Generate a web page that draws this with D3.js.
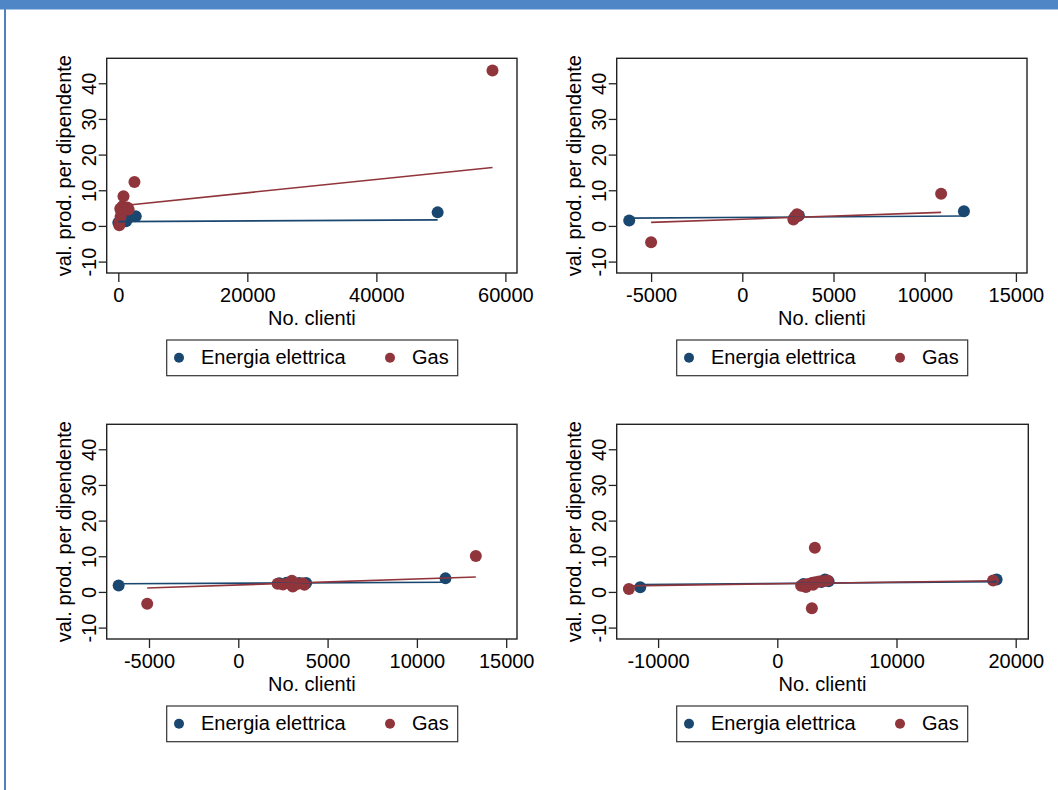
<!DOCTYPE html>
<html>
<head>
<meta charset="utf-8">
<script src="https://cdn.jsdelivr.net/npm/d3@7"></script>
<style>
  body { margin: 0; background: #fff; }
  svg text { font-family: "Liberation Sans", Arial, sans-serif; fill: #000; }
</style>
</head>
<body>
<div id="chart"></div>
<script>
// Data
const seriesNames = ["Energia elettrica", "Gas"];
const yTicks = [-10, 0, 10, 20, 30, 40];

const p1Ticks = [0, 20000, 40000, 60000];
const p1Energia = [[0, 0.9], [1200, 1.3], [1900, 2.6], [2700, 2.7], [49500, 3.8]];
const p1Gas = [[150, 0.2], [250, 1.3], [350, 2.6], [500, 3.8], [300, 4.8], [650, 5.5], [1000, 4.9],
    [1400, 5.2], [1600, 4.6], [800, 8.3], [2500, 12.3], [58000, 43.6]];
const p1FitEnergia = [[0, 1.2], [49500, 1.7]];
const p1FitGas = [[150, 5.6], [58000, 16.4]];

const p2Ticks = [-5000, 0, 5000, 10000, 15000];
const p2Energia = [[-6200, 1.5], [2900, 2.6], [3100, 2.9], [12150, 4.1]];
const p2Gas = [[-5000, -4.6], [2800, 1.8], [2900, 2.6], [3000, 3.3], [3050, 2.8], [10900, 9.0]];
const p2FitEnergia = [[-6200, 2.2], [12150, 2.8]];
const p2FitGas = [[-5000, 1.0], [10900, 3.8]];

const p3Ticks = [-5000, 0, 5000, 10000, 15000];
const p3Energia = [[-6700, 1.8], [2300, 2.4], [2700, 2.6], [3400, 2.5], [3800, 2.5], [11600, 3.8]];
const p3Gas = [[-5100, -3.3], [2200, 2.3], [2500, 2.1], [2800, 2.4], [3000, 3.1], [3050, 1.5],
    [3300, 2.2], [3600, 2.4], [3700, 2.0], [13300, 10.1]];
const p3FitEnergia = [[-6700, 2.3], [11600, 2.7]];
const p3FitGas = [[-5100, 1.1], [13300, 4.2]];

const p4Ticks = [-10000, 0, 10000, 20000];
const p4Energia = [[-11500, 1.3], [2200, 2.2], [3000, 2.6], [3700, 2.8], [4000, 3.5], [4300, 3.0], [18400, 3.5]];
const p4Gas = [[-12450, 0.8], [2000, 1.7], [2300, 2.0], [2400, 1.4], [2600, 2.2], [2900, 2.5], [3000, 2.0],
    [3200, 2.7], [3500, 2.9], [3800, 3.0], [4200, 3.2], [3150, 12.4], [2900, -4.6], [18100, 3.2]];
const p4FitEnergia = [[-11500, 2.05], [18400, 2.9]];
const p4FitGas = [[-12450, 1.7], [18100, 3.15]];

const colors = ["#1a476f", "#90353b"];
const font = 20;
// Stata prints a plain hyphen for negatives
const plain = d => String(d);

const svg = d3.select("#chart")
    .append("svg")
    .attr("width", 1058)
    .attr("height", 790);

// Slide header and left rule
svg.append("rect")
    .attr("x", 0).attr("y", 0)
    .attr("width", 1058).attr("height", 9)
    .attr("fill", "#4f86c6");
svg.append("line")
    .attr("x1", 0).attr("x2", 1058)
    .attr("y1", 9.5).attr("y2", 9.5)
    .attr("stroke", "#a9c5e8");
svg.append("line")
    .attr("x1", 5).attr("x2", 5)
    .attr("y1", 9).attr("y2", 790)
    .attr("stroke", "#4f81bd")
    .attr("stroke-width", 2);

// Panel layout: box position and x domain
const panels = [
    { left: 106.7, top: 58.3, right: 517, domain: [-1800, 61800], ticks: p1Ticks,
      series: [p1Energia, p1Gas], fits: [p1FitEnergia, p1FitGas] },
    { left: 616.7, top: 58.3, right: 1027, domain: [-6886, 15608], ticks: p2Ticks,
      series: [p2Energia, p2Gas], fits: [p2FitEnergia, p2FitGas] },
    { left: 106.7, top: 424.3, right: 517, domain: [-7368, 15605], ticks: p3Ticks,
      series: [p3Energia, p3Gas], fits: [p3FitEnergia, p3FitGas] },
    { left: 616.7, top: 424.3, right: 1028.3, domain: [-13473, 21057], ticks: p4Ticks,
      series: [p4Energia, p4Gas], fits: [p4FitEnergia, p4FitGas] }
];
const boxHeight = 214.7;

panels.forEach(p => {
    const w = p.right - p.left;
    const g = svg.append("g")
        .attr("transform", "translate(" + p.left + "," + p.top + ")");

    const x = d3.scaleLinear().domain(p.domain).range([0, w]);
    const y = d3.scaleLinear().domain([-13.2, 47]).range([boxHeight, 0]);

    // X axis
    const xAxis = g.append("g")
        .attr("transform", "translate(0," + boxHeight + ")")
        .call(d3.axisBottom(x).tickValues(p.ticks).tickSize(9).tickPadding(6).tickFormat(plain));
    xAxis.select(".domain").remove();
    xAxis.selectAll("line").attr("stroke", "#222").attr("stroke-width", 1.3);
    xAxis.selectAll("text")
        .attr("font-size", font)
        .attr("font-family", "Liberation Sans, Arial, sans-serif")
        .attr("fill", "#000");

    // Y axis with rotated labels
    const yAxis = g.append("g")
        .call(d3.axisLeft(y).tickValues(yTicks).tickSize(8).tickFormat(plain));
    yAxis.select(".domain").remove();
    yAxis.selectAll("line").attr("stroke", "#222").attr("stroke-width", 1.3);
    yAxis.selectAll("text")
        .attr("x", null).attr("dy", null)
        .attr("text-anchor", "middle")
        .attr("transform", "translate(-11,0) rotate(-90)")
        .attr("font-size", font)
        .attr("font-family", "Liberation Sans, Arial, sans-serif")
        .attr("fill", "#000");

    // Axis titles
    g.append("text")
        .attr("x", w / 2)
        .attr("y", boxHeight + 52)
        .attr("text-anchor", "middle")
        .attr("font-size", font)
        .text("No. clienti");
    g.append("text")
        .attr("transform", "translate(-35.7," + boxHeight / 2 + ") rotate(-90)")
        .attr("text-anchor", "middle")
        .attr("font-size", font)
        .text("val. prod. per dipendente");

    // Points
    p.series.forEach((s, i) => {
        g.append("g")
            .selectAll("circle")
            .data(s)
            .enter()
            .append("circle")
            .attr("cx", d => x(d[0]))
            .attr("cy", d => y(d[1]))
            .attr("r", 6)
            .attr("fill", colors[i]);
    });

    // Linear fit lines
    const line = d3.line().x(d => x(d[0])).y(d => y(d[1]));
    p.fits.forEach((f, i) => {
        g.append("path")
            .datum(f)
            .attr("d", line)
            .attr("fill", "none")
            .attr("stroke", colors[i])
            .attr("stroke-width", 1.6);
    });

    // Plot frame
    g.append("rect")
        .attr("width", w)
        .attr("height", boxHeight)
        .attr("fill", "none")
        .attr("stroke", "#222")
        .attr("stroke-width", 1.4);

    // Legend
    const lg = g.append("g")
        .attr("transform", "translate(60," + (boxHeight + 67) + ")");
    lg.append("rect")
        .attr("width", 291)
        .attr("height", 35.7)
        .attr("fill", "#fff")
        .attr("stroke", "#333")
        .attr("stroke-width", 1.2);
    const keyX = [12.3, 223.3];
    seriesNames.forEach((name, i) => {
        lg.append("circle")
            .attr("cx", keyX[i])
            .attr("cy", 17.7)
            .attr("r", 5)
            .attr("fill", colors[i]);
        lg.append("text")
            .attr("x", keyX[i] + 22)
            .attr("y", 24.3)
            .attr("font-size", font)
            .text(name);
    });
});
</script>
</body>
</html>
